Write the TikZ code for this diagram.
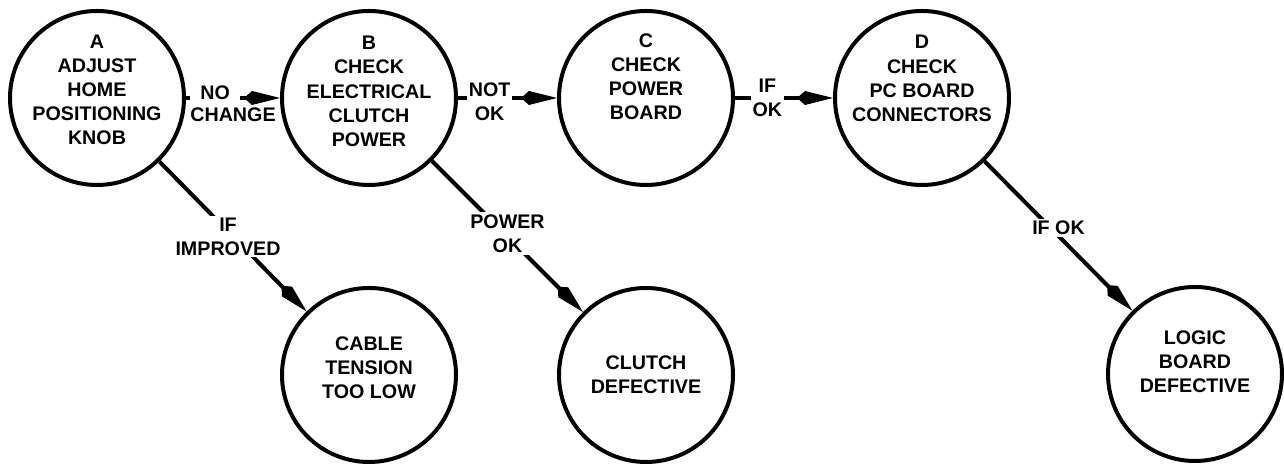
\documentclass[tikz,border=0pt]{standalone}
\usepackage{fontspec}
\setmainfont{Liberation Sans}
\usetikzlibrary{arrows.meta}

\tikzset{
  stage/.style={circle, draw, line width=0.08cm, minimum size=3.48cm, inner sep=0pt},
  caption/.style={align=center, inner sep=0pt, font=\fontsize{11.2}{13.75}\selectfont\bfseries},
  flow/.style={line width=0.08cm, -{Kite[length=0.72cm, width=0.28cm, inset=0.16cm, line width=0pt]}},
  gap/.style={caption, fill=white, inner sep=0.04cm},
}

\begin{document}
\begin{tikzpicture}
    \useasboundingbox (0,0) rectangle (25.68,9.28);
    % checks
    \node[stage] (A) at (1.94,7.32) {};
    \node[stage] (B) at (7.38,7.32) {};
    \node[stage] (C) at (12.92,7.32) {};
    \node[stage] (D) at (18.44,7.32) {};
    % findings
    \node[stage] (cable) at (7.38,1.78) {};
    \node[stage] (clutch) at (12.92,1.78) {};
    \node[stage] (logic) at (23.90,1.80) {};
    \node[caption, yshift=0.16cm] (Atext) at (A) {A\\ADJUST\\HOME\\POSITIONING\\KNOB};
    \node[caption, yshift=0.13cm] (Btext) at (B) {B\\CHECK\\ELECTRICAL\\CLUTCH\\POWER};
    \node[caption, yshift=0.43cm] (Ctext) at (C) {C\\CHECK\\POWER\\BOARD};
    \node[caption, yshift=0.39cm] (Dtext) at (D) {D\\CHECK\\PC BOARD\\CONNECTORS};
    \node[caption, yshift=0.14cm] (cabletext) at (cable) {CABLE\\TENSION\\TOO LOW};
    \node[caption] (clutchtext) at (clutch) {CLUTCH\\DEFECTIVE};
    \node[caption, yshift=0.24cm] (logictext) at (logic) {LOGIC\\BOARD\\DEFECTIVE};
    % connectors
    \draw[flow] (A) -- (B)
        node[gap, pos=0.31, yshift=0.1cm, inner xsep=0.2cm] (no) {NO}
        node[caption, pos=0.5, yshift=-0.34cm] (change) {CHANGE};
    \draw[flow] (B) -- (C) node[gap, pos=0.32, yshift=-0.08cm] (notok) {NOT\\OK};
    \draw[flow] (C) -- (D) node[gap, pos=0.33] (ifok) {IF\\OK};
    \draw[flow] (A) -- (cable) node[gap, pos=0.5, xshift=-0.1cm] (improved) {IF\\IMPROVED};
    \draw[flow] (B) -- (clutch) node[gap, pos=0.5, yshift=0.06cm] (powerok) {POWER\\OK};
    \draw[flow] (D) -- (logic) node[gap, pos=0.5, yshift=0.16cm] (ifoklogic) {IF OK};
\end{tikzpicture}
\end{document}
